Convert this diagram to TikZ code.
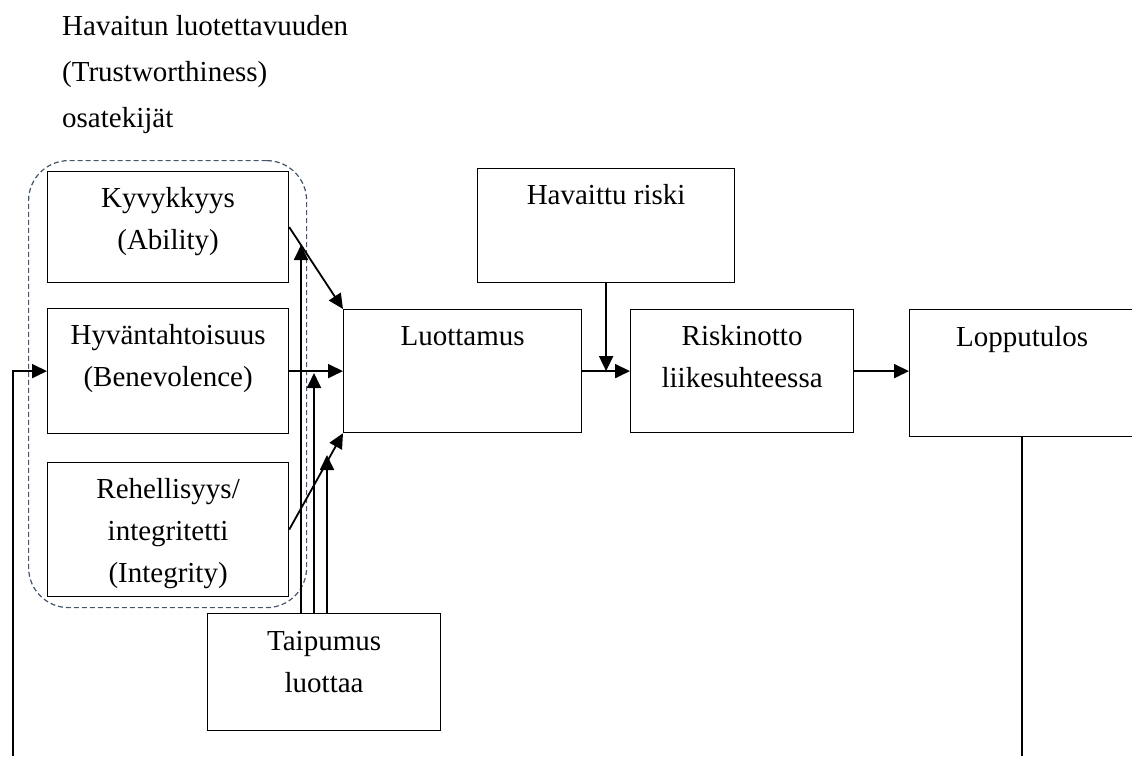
\documentclass[tikz,border=0pt]{standalone}
\usepackage{fontspec}
\setmainfont{Liberation Serif}
\usetikzlibrary{arrows.meta,calc}
\definecolor{grpblue}{HTML}{44546A}
\begin{document}
\begin{tikzpicture}[x=1pt,y=-1pt,
  box/.style={draw=black,line width=1.2pt,inner sep=0pt,anchor=north west},
  txt/.style={font=\fontsize{29}{42}\selectfont,align=center,inner sep=0pt,anchor=north},
  ttl/.style={font=\fontsize{29}{46}\selectfont,align=left,inner sep=0pt,anchor=north west},
  arr/.style={line width=1.8pt,-{Triangle[length=15pt,width=14pt]}},
  ln/.style={line width=1.8pt},
  grp/.style={draw=grpblue,dash pattern=on 5pt off 3pt,line width=1.2pt,rounded corners=40pt,inner sep=0pt,anchor=north west}
]
\useasboundingbox (0,0) rectangle (1132,756);

% title
\node[ttl] (title) at (62,2.8) {\strut Havaitun luotettavuuden\\(Trustworthiness)\\osatekijät};

% dashed group
\node[grp,minimum width=278pt,minimum height=447pt] (grp) at (28,160) {};

% boxes
\node[box,minimum width=241pt,minimum height=111pt] (kyv) at (47,171) {};
\node[box,minimum width=241pt,minimum height=125pt] (hyv) at (47,308) {};
\node[box,minimum width=241pt,minimum height=134pt] (reh) at (47,462) {};
\node[box,minimum width=238pt,minimum height=123pt] (luo) at (343,309) {};
\node[box,minimum width=257pt,minimum height=114pt] (riski) at (477,168) {};
\node[box,minimum width=223pt,minimum height=123pt] (ris) at (630,309) {};
\node[box,minimum width=225pt,minimum height=127pt] (lop) at (909,309) {};
\node[box,minimum width=233pt,minimum height=117pt] (tai) at (207,613) {};

% texts
\node[txt] (kyvT) at ($(kyv.north)+(0,7)$) {\strut Kyvykkyys\\(Ability)};
\node[txt] (hyvT) at ($(hyv.north)+(0,7)$) {\strut Hyväntahtoisuus\\(Benevolence)};
\node[txt] (rehT) at ($(reh.north)+(0,7)$) {\strut Rehellisyys/\\integritetti\\(Integrity)};
\node[txt] (luoT) at ($(luo.north)+(0,7)$) {\strut Luottamus};
\node[txt] (riskiT) at ($(riski.north)+(0,7)$) {\strut Havaittu riski};
\node[txt] (risT) at ($(ris.north)+(0,7)$) {\strut Riskinotto\\liikesuhteessa};
\node[txt] (lopT) at ($(lop.north)+(0,8)$) {\strut Lopputulos};
\node[txt] (taiT) at ($(tai.north)+(0,8)$) {\strut Taipumus\\luottaa};

% arrows into Luottamus
\draw[arr] (kyv.east) -- (luo.north west);
\draw[arr] (hyv.east) -- (luo.west);
\draw[arr] (reh.east) -- (luo.south west);

% Taipumus arrows
\coordinate (t1) at (301,245);
\coordinate (t2) at (314,373);
\coordinate (t3) at (327,455);
\draw[arr] (tai.north -| t1) -- (t1);
\draw[arr] (tai.north -| t2) -- (t2);
\draw[arr] (tai.north -| t3) -- (t3);

% main chain
\draw[arr] (riski.south) -- (riski.south |- luo.east);
\draw[arr] (luo.east) -- (ris.west);
\draw[arr] (ris.east) -- (ris.east -| lop.west);

% feedback lines
\coordinate (fbL) at (13,756);
\coordinate (fbR) at (lop.south |- fbL);
\draw[arr] (fbL) |- (hyv.west);
\draw[ln] (lop.south) -- (fbR);
\end{tikzpicture}
\end{document}
